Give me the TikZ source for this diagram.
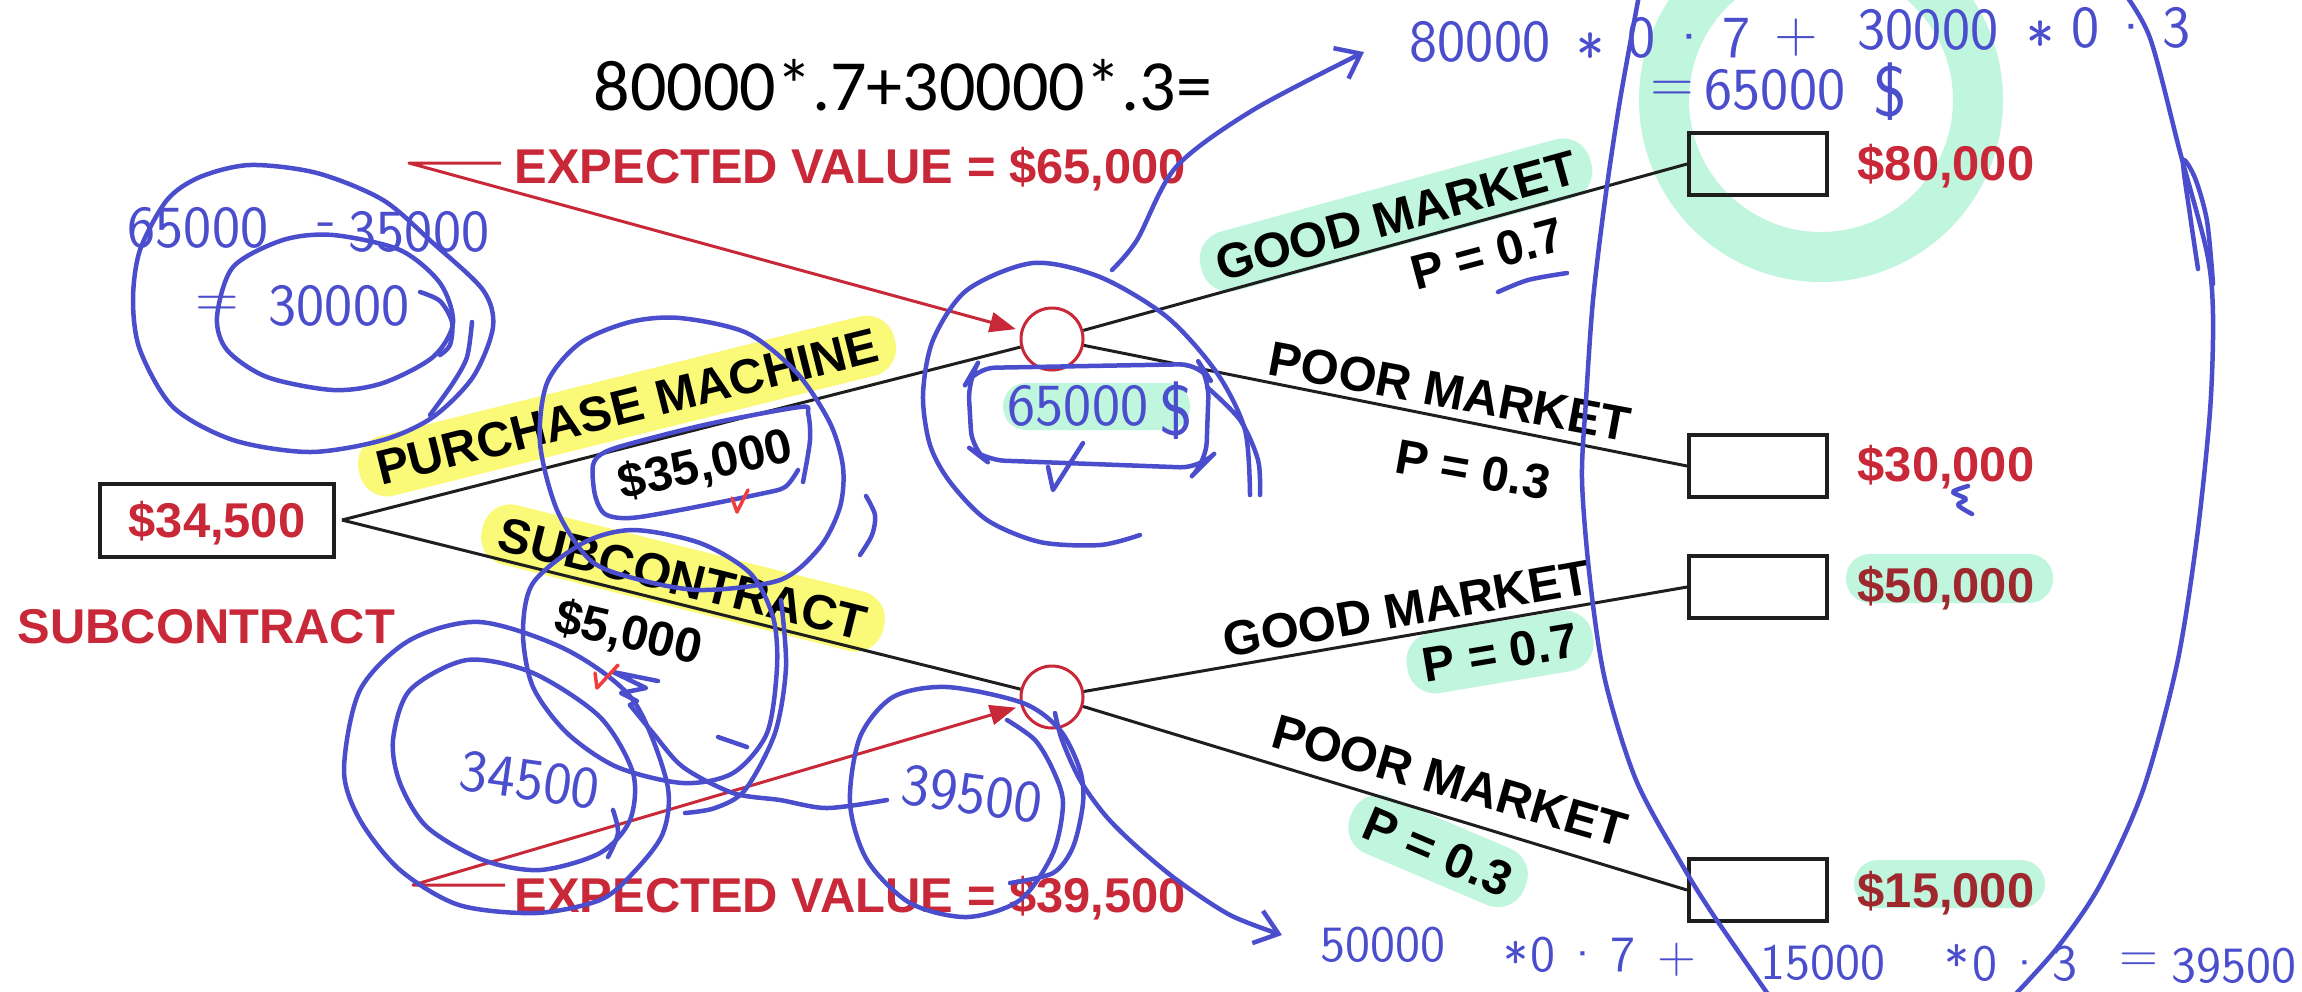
\documentclass[tikz,border=0pt]{standalone}
\usepackage{fontspec}
\usetikzlibrary{arrows.meta}
\newfontfamily\lsans{Liberation Sans}
\newfontfamily\calib{Carlito}
\definecolor{evred}{RGB}{200,40,55}
\definecolor{darkred}{RGB}{158,40,45}
\definecolor{ink}{RGB}{74,78,205}
\definecolor{mint}{RGB}{192,245,222}
\definecolor{hlyel}{RGB}{250,250,120}
\definecolor{tick}{RGB}{240,60,60}
\definecolor{edge}{RGB}{30,30,30}
\begin{document}
\begin{tikzpicture}[x=0.1mm,y=-0.1mm,
  lab/.style={font=\lsans\bfseries\fontsize{13.9}{16}\selectfont, text=black, inner sep=0pt, text height=3.5mm, text depth=0pt},
  money/.style={lab, text=evred, anchor=west},
  yel/.style={fill=hlyel, rounded corners=2.8mm, inner xsep=1.8mm, inner ysep=1.3mm},
  mintbg/.style={fill=mint, rounded corners=2.8mm, inner xsep=1.6mm, inner ysep=1.3mm},
  branch/.style={draw=edge, line width=0.3mm},
  termbox/.style={draw=edge, line width=0.4mm, minimum width=13.8mm, minimum height=6.2mm, inner sep=0pt},
  chance/.style={circle, draw=evred, line width=0.3mm, minimum size=6.2mm, inner sep=0pt},
  pointer/.style={draw=evred, line width=0.3mm, line join=round, -{Triangle[length=2.6mm,width=2mm]}, shorten >=0.5mm},
  hw/.style={font=\sffamily\fontsize{17}{20}\selectfont, text=ink, inner sep=0pt},
  hws/.style={font=\sffamily\fontsize{14.5}{17}\selectfont, text=ink, inner sep=0pt},
  pen/.style={draw=ink, line width=0.45mm, line cap=round, line join=round},
  redpen/.style={draw=tick, line width=0.35mm, line cap=round, line join=round},
]
\useasboundingbox (0,0) rectangle (2302,991);
\fill[white] (0,0) rectangle (2302,991);

% mint ring and highlights
\draw[mint, line width=5mm] (1821,100) circle[radius=15.7mm];
\fill[mint, rounded corners=2.4mm] (1846,554) rectangle (2053,603);
\fill[mint, rounded corners=2.4mm] (1854,860) rectangle (2045,908);
\fill[mint, rounded corners=2.3mm] (1003,383) rectangle (1190,430);

% branch labels
\node[lab, yel, rotate=14] (lpm) at (627,406) {PURCHASE MACHINE};
\node[lab, rotate=13] (lpmc) at (705,463) {\$35,000};
\node[lab, yel, rotate=-14] (lsc) at (683,578) {SUBCONTRACT};
\node[lab, rotate=-13] (lscc) at (629,631) {\$5,000};
\node[lab, mintbg, rotate=15.4] (lg1) at (1396,215) {GOOD MARKET};
\node[lab, rotate=15] (lp1) at (1487,253) {P = 0.7};
\node[lab, rotate=-10.5] (lb1) at (1450,391) {POOR MARKET};
\node[lab, rotate=-10] (lq1) at (1473,469) {P = 0.3};
\node[lab, rotate=10] (lg2) at (1407,608) {GOOD MARKET};
\node[lab, mintbg, rotate=9.5] (lp2) at (1500,652) {P = 0.7};
\node[lab, rotate=-16] (lb2) at (1450,780) {POOR MARKET};
\node[lab, mintbg, rotate=-23] (lq2) at (1438,851) {P = 0.3};

% tree nodes
\node[lab, text=evred, draw=edge, line width=0.4mm, minimum width=23.4mm, minimum height=7.3mm] (dbox) at (217,520) {\$34,500};
\node[chance] (c1) at (1052,339) {};
\node[chance] (c2) at (1052,697) {};
\node[termbox] (t1) at (1758,164) {};
\node[termbox] (t2) at (1758,466) {};
\node[termbox] (t3) at (1758,587) {};
\node[termbox] (t4) at (1758,890) {};

\node[money] (v1) at (1857,162.5) {\$80,000};
\node[money] (v2) at (1857,463.5) {\$30,000};
\node[money, text=darkred] (v3) at (1857,585) {\$50,000};
\node[money, text=darkred] (v4) at (1857,889.5) {\$15,000};

\coordinate (fork) at ([xshift=0.6mm]dbox.east);
\draw[branch] (fork) -- (c1);
\draw[branch] (fork) -- (c2);
\draw[branch] (c1) -- (t1.west);
\draw[branch] (c1) -- (t2.west);
\draw[branch] (c2) -- (t3.west);
\draw[branch] (c2) -- (t4.west);

% expected values
\node[lab, text=evred, anchor=base west] (ev1) at (514,183) {EXPECTED VALUE = \$65,000};
\node[lab, text=evred, anchor=base west] (ev2) at (514,912) {EXPECTED VALUE = \$39,500};
\node[lab, text=evred, anchor=west] (subl) at (17,625.5) {SUBCONTRACT};
\coordinate (s1) at (501,163);
\coordinate (k1) at (409,163);
\coordinate (s2) at (505,885);
\coordinate (k2) at (413,885);
\draw[pointer] (s1) -- (k1) -- (c1);
\draw[pointer] (s2) -- (k2) -- (c2);

\node[font=\calib\fontsize{20.5}{24}\selectfont, anchor=base west, inner sep=0pt] (eq) at (593,110) {80000*.7+30000*.3=};

% handwritten working: top right
\node[hw] (h1) at (1480,42) {80000};
\node[hw] (h2) at (1591,55) {*};
\node[hw] (h3) at (1689,38) {0\hspace{1.2mm}\textperiodcentered\hspace{1.2mm}7};
\node[hw] (h4) at (1796,38) {+};
\node[hw] (h5) at (1928,30) {30000};
\node[hw] (h6) at (2041,43) {*};
\node[hw] (h7) at (2131,28) {0\hspace{1mm}\textperiodcentered\hspace{1mm}3};
\node[hw] (h8) at (1672,92) {=};
\node[hw] (h9) at (1775,90) {65000};
\node[hw, scale=1.2] (h10) at (1890,92) {\$};

% handwritten working: left
\node[hw] (h11) at (198,228) {65000};
\node[hw] (h12) at (327,230) {-};
\node[hw] (h13) at (419,232) {35000};
\node[hw] (h14) at (217,307) {=};
\node[hw] (h15) at (339,306) {30000};
\node[hw] (h16) at (1078,406) {65000};
\node[hw, scale=1.2] (h17) at (1176,411) {\$};
\node[hw, rotate=-8] (h18) at (530,780) {34500};
\node[hw, rotate=-8] (h19) at (972,794) {39500};

% handwritten working: bottom
\node[hws] (b1) at (1383,945) {50000};
\node[hws] (b2) at (1516,960) {*};
\node[hws] (b3) at (1583,955) {0\,\textperiodcentered\,7};
\node[hws] (b4) at (1677,960) {+};
\node[hws] (b5) at (1823,963) {15000};
\node[hws] (b6) at (1957,963) {*};
\node[hws] (b7) at (2025,964) {0\,\textperiodcentered\,3};
\node[hws] (b8) at (2139,962) {=};
\node[hws] (b9) at (2234,966) {39500};

% pen strokes
\draw[pen] plot[smooth cycle] coordinates {(133,300) (140,250) (167,200) (200,177) (250,165) (317,173) (383,200) (433,243) (483,290) (493,327) (473,377) (433,417) (383,440) (310,452) (233,440) (173,407) (140,350)};
\draw[pen] plot[smooth cycle] coordinates {(217,317) (233,267) (283,240) (333,235) (400,250) (440,283) (453,323) (433,357) (383,383) (333,390) (267,377) (227,350)};
\draw[pen] plot[smooth] coordinates {(420,292) (440,301) (452,322) (450,345) (440,355)};
\draw[pen] plot[smooth] coordinates {(472,322) (467,357) (453,383) (430,415)};

\draw[pen] plot[smooth cycle] coordinates {(540,443) (547,383) (580,343) (630,322) (680,318) (747,333) (797,373) (830,423) (843,467) (840,507) (820,547) (780,580) (700,590) (633,578) (590,560) (557,510)};
\draw[pen] plot[smooth] coordinates {(798,470) (785,487) (760,494) (680,510) (630,518) (605,514) (595,495) (593,465) (605,452) (640,441) (713,423) (800,407) (808,413) (810,440) (803,482)};
\draw[pen] plot[smooth] coordinates {(866,496) (875,515) (872,535) (860,555)};

\draw[pen] plot[smooth cycle] coordinates {(523,633) (533,583) (583,543) (633,530) (700,543) (750,573) (773,617) (777,667) (767,733) (733,773) (683,783) (617,767) (567,733) (533,687)};
\draw[pen] plot[smooth] coordinates {(781,600) (786,667) (775,733) (745,790) (715,808) (685,813)};
\draw[pen] plot[smooth cycle] coordinates {(344,770) (360,690) (410,640) (480,622) (567,650) (633,700) (667,783) (663,833) (633,873) (600,900) (536,913) (459,905) (400,870) (360,820)};
\draw[pen] plot[smooth cycle] coordinates {(393,740) (410,690) (467,660) (533,673) (600,717) (633,773) (630,820) (600,853) (540,870) (483,860) (427,827) (400,783)};
\draw[pen] plot[smooth] coordinates {(613,810) (618,833) (608,857)};
\draw[pen] (658,681) -- (613,672) -- (646,688) -- (621,693) -- (637,701) -- (630,705);
\draw[pen] plot[smooth] coordinates {(630,705) (653,733) (683,767) (733,793) (780,800) (827,808) (887,800)};
\draw[pen] (718,737) -- (747,747);

\draw[pen] plot[smooth] coordinates {(1007,720) (1035,740) (1053,770) (1063,803) (1053,853) (1020,900) (967,917) (910,903) (867,860) (850,803) (860,737) (893,697) (947,687) (1023,703) (1060,730) (1080,770) (1083,803) (1073,847) (1053,873) (1010,883)};
\draw[pen, -{Straight Barb[length=2.2mm,width=3.4mm]}] plot[smooth] coordinates {(1055,713) (1062,740) (1080,780) (1105,815) (1135,845) (1177,880) (1230,915) (1282,935)};

\draw[pen] plot[smooth] coordinates {(1250,495) (1245,430) (1217,373) (1167,317) (1100,277) (1033,263) (967,290) (933,340) (923,395) (930,445) (950,482) (987,520) (1040,542) (1100,545) (1140,535)};
\draw[pen] plot[smooth] coordinates {(1207,387) (1240,420) (1258,460) (1260,495)};
\draw[pen, rounded corners=2mm] (975,368) -- (1200,364) -- (1209,378) -- (1206,462) -- (1200,468) -- (985,460) -- (972,450) -- (968,380) -- cycle;
\draw[pen] (1083,443) -- (1053,490) -- (1048,467);
\draw[pen, -{Straight Barb[length=2.2mm,width=3.4mm]}] plot[smooth] coordinates {(1112,270) (1137,240) (1176,167) (1253,110) (1364,52)};

\draw[pen] plot[smooth] coordinates {(1498,292) (1528,280) (1567,273)};
\draw[pen] plot[smooth] coordinates {(1968,486) (1953,492) (1966,499) (1958,505) (1972,514)};

\draw[pen] plot[smooth] coordinates {(1640,-10) (1620,100) (1605,200) (1593,300) (1586,400) (1582,480) (1590,580) (1605,680) (1636,780) (1681,863) (1712,913) (1772,1000)};
\draw[pen] plot[smooth] coordinates {(2122,-10) (2150,38) (2180,152) (2207,253) (2213,316) (2210,411) (2197,537) (2177,664) (2143,790) (2100,885) (2057,948) (2010,1000)};
\draw[pen] plot[smooth] coordinates {(2198,269) (2190,215) (2183,161) (2195,178) (2207,221) (2213,284)};

% red ticks
\draw[redpen] (732,498) -- (737,512) -- (748,490);
\draw[redpen] (595,673) -- (597,688) -- (618,665);
\end{tikzpicture}
\end{document}
